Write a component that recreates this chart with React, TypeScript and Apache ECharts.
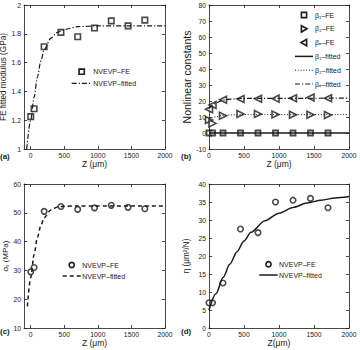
import React, { useEffect, useRef } from 'react';
import * as echarts from 'echarts';

// ---- data ----
const zFE = [0, 50, 200, 450, 700, 950, 1200, 1450, 1700];

const modulusFE = [1.225, 1.28, 1.71, 1.81, 1.78, 1.84, 1.89, 1.855, 1.895];
const modulusFitZ = [-60, 0, 50, 100, 150, 200, 300, 400, 500, 700, 1000, 2000];
const modulusFit = [1.0, 1.2, 1.36, 1.5, 1.61, 1.69, 1.77, 1.81, 1.83, 1.85, 1.855, 1.855];

const beta1FE = [0, 0, 0, 0, 0, 0, 0, 0, 0];
const beta2FE = [8.1, 6.0, 10.8, 11.9, 11.9, 11.6, 11.4, 11.4, 11.2];
const betaeFE = [14.8, 17.5, 20.8, 21.2, 21.4, 21.5, 21.7, 22.2, 21.7];
const beta1FitZ = [0, 2000];
const beta1Fit = [0, 0];
const beta2FitZ = [0, 50, 100, 200, 300, 500, 2000];
const beta2Fit = [9, 9.6, 10.2, 11, 11.3, 11.5, 11.5];
const betaeFitZ = [0, 50, 100, 200, 300, 500, 2000];
const betaeFit = [15.2, 17.3, 18.9, 20.6, 21.2, 21.6, 21.8];

const sigmaFE = [29.5, 31, 50.5, 52.2, 51.2, 51.7, 52.6, 51.9, 51.4];
const sigmaFitZ = [-50, 0, 50, 100, 150, 200, 300, 400, 500, 700, 2000];
const sigmaFit = [17.5, 27.5, 35.5, 41.5, 45.5, 48.3, 51, 52, 52.3, 52.4, 52.4];

const etaFE = [7, 7, 12.5, 27.5, 26.5, 35, 35.5, 36, 33.4];
const etaFitZ = [0, 100, 200, 300, 400, 500, 600, 800, 1000, 1200, 1400, 1600, 1800, 2000];
const etaFit = [5, 9.5, 14, 17.8, 21.2, 24.2, 26.6, 29.8, 31.9, 33.5, 34.7, 35.5, 36.1, 36.5];

const zTicks = [0, 500, 1000, 1500, 2000];

const legendA = ['NVEVP–FE', 'NVEVP–fitted'];
const legendB = ['β₁–FE', 'β₂–FE', 'βₑ–FE', 'β₁–fitted', 'β₂–fitted', 'βₑ–fitted'];
const legendC = ['NVEVP–FE', 'NVEVP–fitted'];
const legendD = ['NVEVP–FE', 'NVEVP–fitted'];

// ---- styling ----
const FONT = 'Liberation Sans, Arial, Helvetica, sans-serif';
const INK = '#1a1a1a';
const FS = 6.8;
const LFS = 7;
const DASHDOT = [5, 2, 1.2, 2];
const DOTTED = [1, 1.8];
const DASHED = [4, 3];

const pairs = (xs: number[], ys: number[]) => xs.map((x, i) => [x, ys[i]]);

const grids = [
  { left: 24, top: 5, width: 141, height: 144 },
  { left: 209, top: 5, width: 140, height: 144 },
  { left: 24, top: 184, width: 141, height: 144 },
  { left: 209, top: 184, width: 140, height: 144 },
];

function xAxes(gi: number, min: number, name: string) {
  const common: any = {
    type: 'value',
    gridIndex: gi,
    min,
    max: 2000,
    splitLine: { show: false },
    axisLine: { show: true, onZero: false, lineStyle: { color: INK, width: 0.8 } },
  };
  const custom = min % 500 !== 0;
  const tick: any = { show: true, inside: true, length: 3, lineStyle: { color: INK, width: 0.8 } };
  if (custom) tick.customValues = zTicks;
  const label: any = { show: true, fontSize: FS, fontFamily: FONT, color: INK, margin: 3, formatter: (v: number) => String(v) };
  if (custom) label.customValues = zTicks;
  const extra: any = custom ? {} : { interval: 500 };
  return [
    {
      ...common,
      ...extra,
      position: 'bottom',
      axisTick: tick,
      axisLabel: label,
      name,
      nameLocation: 'middle',
      nameGap: 10,
      nameTextStyle: { fontSize: 8.5, fontFamily: FONT, color: INK },
    },
    { ...common, ...extra, position: 'top', axisTick: tick, axisLabel: { show: false } },
  ];
}

function yAxes(gi: number, min: number, max: number, interval: number, name: string, gap: number, nfs: number, fmt?: (v: number) => string) {
  const common: any = {
    type: 'value',
    gridIndex: gi,
    min,
    max,
    interval,
    splitLine: { show: false },
    axisLine: { show: true, onZero: false, lineStyle: { color: INK, width: 0.8 } },
    axisTick: { show: true, inside: true, length: 3, lineStyle: { color: INK, width: 0.8 } },
  };
  return [
    {
      ...common,
      position: 'left',
      axisLabel: { show: true, fontSize: FS, fontFamily: FONT, color: INK, margin: 3, formatter: fmt },
      name,
      nameLocation: 'middle',
      nameRotate: 90,
      nameGap: gap,
      nameTextStyle: { fontSize: nfs, fontFamily: FONT, color: INK },
    },
    { ...common, position: 'right', axisLabel: { show: false } },
  ];
}

const hollow = { color: '#ffffff', borderColor: INK, borderWidth: 1.6 };

// ---- hand-drawn legend boxes (MATLAB-style) ----
type Sample =
  | { kind: 'rect' | 'circle' | 'triR' | 'triL' }
  | { kind: 'line'; dash: number[] | null; width: number };

function marker(kind: string, cx: number, cy: number): any {
  const style = { fill: '#ffffff', stroke: INK, lineWidth: 1.6 };
  if (kind === 'rect') return { type: 'rect', shape: { x: cx - 2.6, y: cy - 2.6, width: 5.2, height: 5.2 }, style };
  if (kind === 'circle') return { type: 'circle', shape: { cx, cy, r: 2.6 }, style };
  if (kind === 'triR') return { type: 'polygon', shape: { points: [[cx - 2.6, cy - 3.2], [cx - 2.6, cy + 3.2], [cx + 3, cy]] }, style };
  return { type: 'polygon', shape: { points: [[cx + 2.6, cy - 3.2], [cx + 2.6, cy + 3.2], [cx - 3, cy]] }, style };
}

function legendBlock(labels: string[], samples: Sample[], x0: number, x1: number, textX: number, y0: number, dy: number) {
  const out: any[] = [];
  labels.forEach((lab, i) => {
    const cy = y0 + i * dy;
    const s = samples[i];
    if (s.kind === 'line') {
      out.push({
        type: 'line',
        shape: { x1: x0, y1: cy, x2: x1, y2: cy },
        style: { stroke: INK, lineWidth: s.width, lineDash: s.dash || undefined },
      });
    } else {
      out.push(marker(s.kind, (x0 + x1) / 2, cy));
    }
    out.push({
      type: 'text',
      x: textX,
      y: cy,
      style: { text: lab, fontSize: LFS, fontFamily: FONT, fill: INK, verticalAlign: 'middle', align: 'left' },
    });
  });
  return out;
}

export default function App() {
  const ref = useRef<HTMLDivElement>(null);
  useEffect(() => {
    if (!ref.current) return;
    const chart = echarts.init(ref.current, undefined, { renderer: 'svg' });
    const panelLabel = (t: string, left: number, top: number) => ({
      type: 'text', left, top, style: { text: t, fontSize: 8, fontWeight: 'bold', fontFamily: FONT, fill: INK },
    });
    const option: any = {
      animation: false,
      backgroundColor: '#ffffff',
      grid: grids.map((g) => ({ ...g, containLabel: false, outerBoundsMode: 'none' })),
      xAxis: [
        ...xAxes(0, -100, 'Z (μm)'),
        ...xAxes(1, 0, 'Z (μm)'),
        ...xAxes(2, -100, 'Z (μm)'),
        ...xAxes(3, 0, 'Z(μm)'),
      ],
      yAxis: [
        ...yAxes(0, 1, 2, 0.2, 'FE fitted modulus (GPa)', 12.5, 8.2, (v) => String(Math.round(v * 10) / 10)),
        ...yAxes(1, -10, 80, 10, 'Nonlinear constants', 14, 10.5),
        ...yAxes(2, 10, 60, 10, 'σₛ (MPa)', 13.5, 8),
        ...yAxes(3, 0, 40, 5, 'η (μm²/N)', 18.5, 8.2),
      ],
      graphic: [
        panelLabel('(a)', 0, 152),
        panelLabel('(b)', 181, 152),
        panelLabel('(c)', 0, 327),
        panelLabel('(d)', 181, 327),
        ...legendBlock(legendA, [{ kind: 'rect' }, { kind: 'line', dash: DASHDOT, width: 1.2 }], 71.7, 91.7, 93.3, 71.7, 11.6),
        ...legendBlock(
          legendB,
          [
            { kind: 'rect' },
            { kind: 'triR' },
            { kind: 'triL' },
            { kind: 'line', dash: null, width: 1.5 },
            { kind: 'line', dash: DOTTED, width: 1 },
            { kind: 'line', dash: DASHDOT, width: 1.2 },
          ],
          295, 313, 315, 15, 13.8,
        ),
        ...legendBlock(legendC, [{ kind: 'circle' }, { kind: 'line', dash: DASHED, width: 1.5 }], 62.7, 80.7, 82.3, 265, 11),
        ...legendBlock(legendD, [{ kind: 'circle' }, { kind: 'line', dash: null, width: 1.5 }], 259.3, 277.7, 279, 264.3, 10.7),
      ],
      series: [
        // (a)
        { name: 'NVEVP–fitted', type: 'line', xAxisIndex: 0, yAxisIndex: 0, data: pairs(modulusFitZ, modulusFit), symbol: 'none', smooth: 0.3, smoothMonotone: 'x', lineStyle: { color: INK, width: 1.2, type: DASHDOT } },
        { name: 'NVEVP–FE', type: 'scatter', xAxisIndex: 0, yAxisIndex: 0, data: pairs(zFE, modulusFE), symbol: 'rect', symbolSize: 5.5, itemStyle: hollow, clip: false },
        // (b)
        { name: 'β₁–fitted', type: 'line', xAxisIndex: 2, yAxisIndex: 2, data: pairs(beta1FitZ, beta1Fit), symbol: 'none', lineStyle: { color: INK, width: 1.5, type: 'solid' } },
        { name: 'β₂–fitted', type: 'line', xAxisIndex: 2, yAxisIndex: 2, data: pairs(beta2FitZ, beta2Fit), symbol: 'none', smooth: 0.3, smoothMonotone: 'x', lineStyle: { color: INK, width: 1, type: DOTTED } },
        { name: 'βₑ–fitted', type: 'line', xAxisIndex: 2, yAxisIndex: 2, data: pairs(betaeFitZ, betaeFit), symbol: 'none', smooth: 0.3, smoothMonotone: 'x', lineStyle: { color: INK, width: 1.2, type: DASHDOT } },
        { name: 'β₁–FE', type: 'scatter', xAxisIndex: 2, yAxisIndex: 2, data: pairs(zFE, beta1FE), symbol: 'rect', symbolSize: 5, itemStyle: { ...hollow, borderWidth: 1.8 }, clip: false },
        { name: 'β₂–FE', type: 'scatter', xAxisIndex: 2, yAxisIndex: 2, data: pairs(zFE, beta2FE), symbol: 'triangle', symbolRotate: -90, symbolSize: 7, itemStyle: hollow, clip: false },
        { name: 'βₑ–FE', type: 'scatter', xAxisIndex: 2, yAxisIndex: 2, data: pairs(zFE, betaeFE), symbol: 'triangle', symbolRotate: 90, symbolSize: 7, itemStyle: hollow, clip: false },
        // (c)
        { name: 'NVEVP–fitted', type: 'line', xAxisIndex: 4, yAxisIndex: 4, data: pairs(sigmaFitZ, sigmaFit), symbol: 'none', smooth: 0.3, smoothMonotone: 'x', lineStyle: { color: INK, width: 1.5, type: DASHED } },
        { name: 'NVEVP–FE', type: 'scatter', xAxisIndex: 4, yAxisIndex: 4, data: pairs(zFE, sigmaFE), symbol: 'circle', symbolSize: 5.5, itemStyle: hollow, clip: false },
        // (d)
        { name: 'NVEVP–fitted', type: 'line', xAxisIndex: 6, yAxisIndex: 6, data: pairs(etaFitZ, etaFit), symbol: 'none', smooth: 0.3, smoothMonotone: 'x', lineStyle: { color: INK, width: 1.5, type: 'solid' } },
        { name: 'NVEVP–FE', type: 'scatter', xAxisIndex: 6, yAxisIndex: 6, data: pairs(zFE, etaFE), symbol: 'circle', symbolSize: 5.5, itemStyle: hollow, clip: false },
      ],
    };
    chart.setOption(option);
    return () => chart.dispose();
  }, []);
  return (
    <div
      ref={ref}
      style={{ position: 'fixed', left: 0, top: 0, width: 360, height: 350, background: '#fff' }}
    />
  );
}
